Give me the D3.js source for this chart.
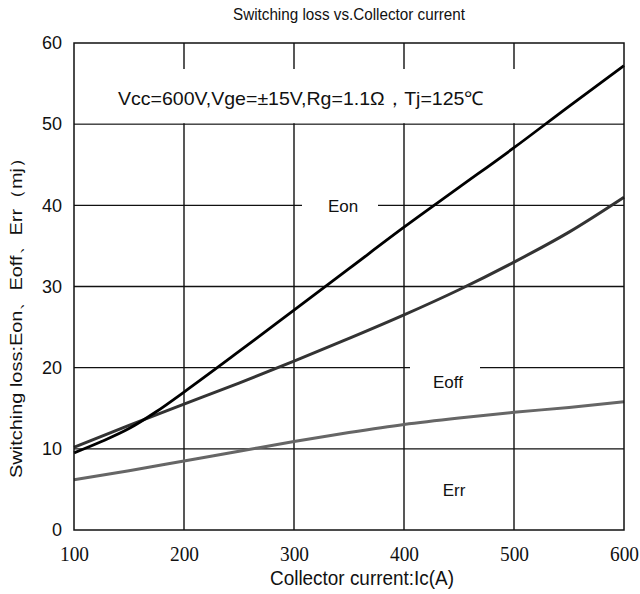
<!DOCTYPE html>
<html><head><meta charset="utf-8">
<script src="https://cdn.jsdelivr.net/npm/d3@7/dist/d3.min.js"></script>
<style>body{margin:0;background:#fff}svg{display:block}</style>
</head><body>
<svg id="c" width="640" height="594"></svg>
<script>
const xTicks = [100, 200, 300, 400, 500, 600];
const yTicks = [0, 10, 20, 30, 40, 50, 60];
const eonX = [100, 125, 150, 175, 200, 250, 300, 350, 400, 450, 500, 550, 600];
const eonY = [9.5, 10.9, 12.5, 14.6, 17.0, 22.0, 27.1, 32.2, 37.3, 42.2, 47.1, 52.2, 57.2];
const eoffX = [100, 150, 200, 250, 300, 350, 400, 450, 500, 550, 600];
const eoffY = [10.2, 12.9, 15.5, 18.1, 20.8, 23.6, 26.5, 29.6, 33.0, 36.7, 41.0];
const errX = [100, 150, 200, 250, 300, 350, 400, 450, 500, 550, 600];
const errY = [6.2, 7.3, 8.5, 9.7, 10.9, 12.0, 13.0, 13.8, 14.5, 15.1, 15.8];
const title = "Switching loss vs.Collector current";
const xTitle = "Collector current:Ic(A)";
const yTitle = "Switching loss:Eon、Eoff、Err（mj）";
const note = "Vcc=600V,Vge=±15V,Rg=1.1Ω，Tj=125℃";

const svg = d3.select("#c");
const L = 74, R = 624, T = 43, B = 530;
const x = d3.scaleLinear().domain([100, 600]).range([L, R]);
const y = d3.scaleLinear().domain([0, 60]).range([B, T]);
const sans = "'Liberation Sans', Arial, sans-serif";

// grid
const g = svg.append("g");
g.selectAll(".vg").data(xTicks.slice(1, -1)).enter().append("line")
  .attr("x1", d => x(d)).attr("x2", d => x(d)).attr("y1", T).attr("y2", B)
  .attr("stroke", "#111").attr("stroke-width", 1.4);
g.selectAll(".hg").data(yTicks.slice(1, -1)).enter().append("line")
  .attr("x1", L).attr("x2", R).attr("y1", d => y(d)).attr("y2", d => y(d))
  .attr("stroke", "#111").attr("stroke-width", 1.4);

// white label boxes
svg.append("rect").attr("x", L + 1).attr("y", 69).attr("width", R - L - 2).attr("height", y(50) - 69 - 1).attr("fill", "#fff");
svg.append("rect").attr("x", 302).attr("y", y(40) - 4).attr("width", 76).attr("height", 8).attr("fill", "#fff");
svg.append("rect").attr("x", 410).attr("y", y(20) - 4).attr("width", 70).attr("height", 8).attr("fill", "#fff");

// curves
const line = d3.line().x(d => x(d[0])).y(d => y(d[1])).curve(d3.curveMonotoneX);
const series = [
  {xs: errX, ys: errY, color: "#666", w: 3},
  {xs: eoffX, ys: eoffY, color: "#333", w: 3},
  {xs: eonX, ys: eonY, color: "#000", w: 2.8}
];
series.forEach(s => {
  svg.append("path").datum(s.xs.map((v, i) => [v, s.ys[i]]))
    .attr("d", line).attr("fill", "none").attr("stroke", s.color).attr("stroke-width", s.w);
});

// frame
svg.append("rect").attr("x", L).attr("y", T).attr("width", R - L).attr("height", B - T)
  .attr("fill", "none").attr("stroke", "#111").attr("stroke-width", 1.5);

// axes labels
const xAxis = d3.axisBottom(x).tickValues(xTicks).tickSize(0).tickPadding(0).tickFormat(d3.format("d"));
const xa = svg.append("g").attr("transform", `translate(0,${B})`).call(xAxis);
xa.select(".domain").remove();
xa.selectAll("text").attr("font-family", "'Liberation Serif', 'Times New Roman', serif")
  .attr("font-size", 21).attr("textLength", 29).attr("lengthAdjust", "spacingAndGlyphs")
  .attr("fill", "#111").attr("dy", null).attr("y", 31);

const yAxis = d3.axisLeft(y).tickValues(yTicks).tickSize(0).tickPadding(12);
const ya = svg.append("g").attr("transform", `translate(${L},0)`).call(yAxis);
ya.select(".domain").remove();
ya.selectAll("text").attr("font-family", sans).attr("font-size", 18).attr("fill", "#111");

// texts
svg.append("text").attr("x", 349).attr("y", 20).attr("text-anchor", "middle")
  .attr("font-family", sans).attr("font-size", 16).attr("textLength", 232).attr("lengthAdjust", "spacingAndGlyphs")
  .attr("fill", "#111").text(title);
svg.append("text").attr("x", 362).attr("y", 585).attr("text-anchor", "middle")
  .attr("font-family", sans).attr("font-size", 20).attr("textLength", 184).attr("lengthAdjust", "spacingAndGlyphs")
  .attr("fill", "#111").text(xTitle);
svg.append("text").attr("transform", "translate(22,313) rotate(-90)").attr("text-anchor", "middle")
  .attr("font-family", sans).attr("font-size", 16).attr("textLength", 330).attr("lengthAdjust", "spacingAndGlyphs")
  .attr("fill", "#111").text(yTitle);
svg.append("text").attr("x", 118).attr("y", 105)
  .attr("font-family", sans).attr("font-size", 19).attr("textLength", 366).attr("lengthAdjust", "spacingAndGlyphs")
  .attr("fill", "#111").text(note);

const labels = [
  {t: "Eon", x: 343, y: 212},
  {t: "Eoff", x: 448, y: 388},
  {t: "Err", x: 454, y: 496}
];
svg.selectAll(".lbl").data(labels).enter().append("text")
  .attr("x", d => d.x).attr("y", d => d.y).attr("text-anchor", "middle")
  .attr("font-family", sans).attr("font-size", 17).attr("fill", "#111").text(d => d.t);
</script>
</body></html>
